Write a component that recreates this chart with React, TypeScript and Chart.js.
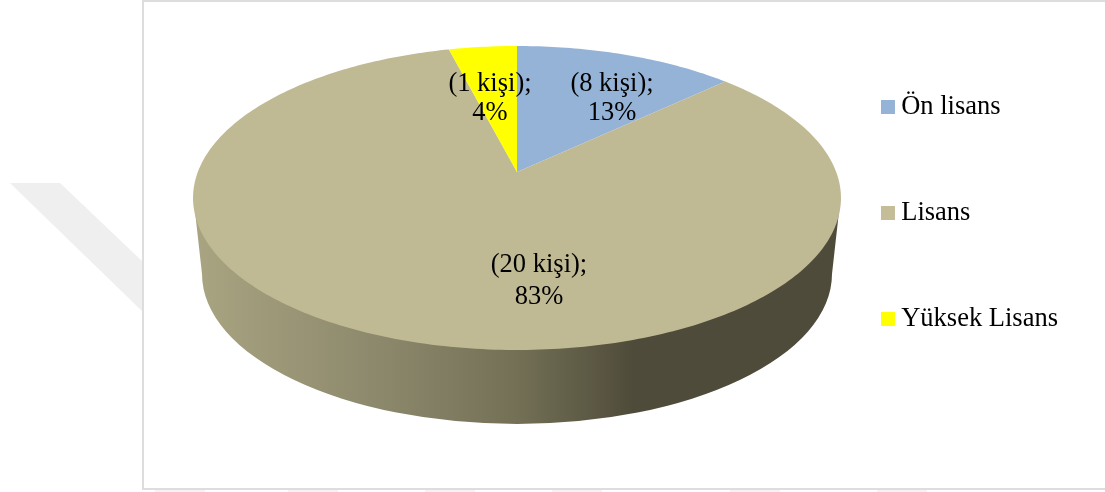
import React, { useEffect, useRef } from "react";
import { Chart, registerables, ArcElement, PieController } from "chart.js";

Chart.register(...registerables);

// Education levels and their shares of the respondents
const categories = ["Ön lisans", "Lisans", "Yüksek Lisans"];
const shares = [13, 83, 4];
const personCounts = [8, 20, 1];
const sliceColors = ["#95b3d7", "#c0ba94", "#ffff00"];
const legendColors = ["#95b3d7", "#c4bd97", "#ffff00"];

const SERIF = '"Liberation Serif", "Times New Roman", serif';
const FONT_SIZE = 26.5;

// Tilted disc: a homography from the unit circle onto the canvas
const DISC = { cx: 517, cy: 172, a: 319.2, b: 147.55, p: -0.171 };
const project = (radius: number, angle: number) => {
  const u = radius * Math.cos(angle);
  const v = radius * Math.sin(angle);
  const w = 1 + DISC.p * v;
  return { x: DISC.cx + (DISC.a * u) / w, y: DISC.cy + (DISC.b * v) / w };
};

// Pie slice painted on the tilted disc, using the angles the controller worked out
class TiltedArc extends ArcElement {
  static id = "tiltedArc";
  draw(ctx: CanvasRenderingContext2D) {
    const { startAngle, endAngle } = this as any;
    const steps = Math.max(8, Math.ceil((endAngle - startAngle) * 60));
    ctx.save();
    ctx.beginPath();
    ctx.moveTo(DISC.cx, DISC.cy);
    for (let i = 0; i <= steps; i++) {
      const pt = project(1, startAngle + ((endAngle - startAngle) * i) / steps);
      ctx.lineTo(pt.x, pt.y);
    }
    ctx.closePath();
    ctx.fillStyle = (this as any).options.backgroundColor;
    ctx.fill();
    ctx.restore();
  }
}

class TiltedPie extends PieController {
  static id = "tiltedPie";
  static defaults = { ...PieController.defaults, dataElementType: "tiltedArc" };
  static overrides = PieController.overrides;
}

Chart.register(TiltedArc, TiltedPie);

// Page furniture behind the chart: faint diagonal band, marks under the frame,
// and the frame itself, whose right side runs off the page
const bottomMarkLefts = [155, 288, 425, 552, 730, 877];
const backdrop = {
  id: "backdrop",
  beforeDraw(chart: Chart) {
    const { ctx, width, height } = chart;
    ctx.save();
    ctx.fillStyle = "#ffffff";
    ctx.fillRect(0, 0, width, height);
    ctx.fillStyle = "#efefef";
    ctx.beginPath();
    ctx.moveTo(10, 183);
    ctx.lineTo(60, 183);
    ctx.lineTo(143, 262);
    ctx.lineTo(143, 312);
    ctx.closePath();
    ctx.fill();
    ctx.fillStyle = "#f3f3f3";
    bottomMarkLefts.forEach((left) => ctx.fillRect(left, 490, 50, 2));
    ctx.fillStyle = "#ffffff";
    ctx.fillRect(143, 1, 970, 488);
    ctx.strokeStyle = "#dddddd";
    ctx.lineWidth = 2;
    ctx.strokeRect(143, 1, 970, 488);
    ctx.restore();
  },
};

// Edge of the disc, shaded from left to right
const discWall = {
  id: "discWall",
  beforeDatasetsDraw(chart: Chart) {
    const { ctx } = chart;
    const grad = ctx.createLinearGradient(193, 0, 841, 0);
    grad.addColorStop(0, "#a9a481");
    grad.addColorStop(0.3, "#8b876b");
    grad.addColorStop(0.5, "#737056");
    grad.addColorStop(0.68, "#4f4b3a");
    grad.addColorStop(1, "#4f4b3a");
    ctx.save();
    ctx.beginPath();
    ctx.moveTo(193.5, 198);
    ctx.lineTo(202, 274);
    ctx.ellipse(517, 274, 315, 150, 0, Math.PI, 0, true);
    ctx.lineTo(840.5, 198);
    ctx.closePath();
    ctx.fillStyle = grad;
    ctx.fill();
    ctx.restore();
  },
};

// Two-line value captions set over the slices
const captionAnchors = [
  { x: 612, y: 99, gap: 29 },
  { x: 539, y: 281, gap: 32 },
  { x: 490, y: 99, gap: 29 },
];
const sliceCaptions = {
  id: "sliceCaptions",
  afterDatasetsDraw(chart: Chart) {
    const { ctx } = chart;
    ctx.save();
    ctx.font = `${FONT_SIZE}px ${SERIF}`;
    ctx.fillStyle = "#000000";
    ctx.textAlign = "center";
    ctx.textBaseline = "middle";
    captionAnchors.forEach((anchor, i) => {
      ctx.fillText(`(${personCounts[i]} kişi);`, anchor.x, anchor.y - anchor.gap / 2);
      ctx.fillText(`${shares[i]}%`, anchor.x, anchor.y + anchor.gap / 2);
    });
    ctx.restore();
  },
};

export default function App() {
  const canvasRef = useRef<HTMLCanvasElement>(null);

  useEffect(() => {
    const chart = new Chart(canvasRef.current!, {
      type: "tiltedPie" as any,
      data: {
        labels: categories,
        datasets: [
          {
            data: shares,
            backgroundColor: sliceColors,
            borderWidth: 0,
          },
        ],
      },
      options: {
        responsive: false,
        animation: false,
        layout: { padding: { right: 37, bottom: 66 } },
        plugins: {
          tooltip: { enabled: false },
          legend: {
            display: true,
            position: "right",
            labels: {
              usePointStyle: true,
              pointStyle: "rect",
              boxWidth: 0.01,
              boxHeight: 14,
              padding: 79.5,
              color: "#000000",
              font: { family: SERIF, size: FONT_SIZE },
              generateLabels: () =>
                categories.map((text, i) => ({
                  text,
                  fillStyle: legendColors[i],
                  strokeStyle: legendColors[i],
                  lineWidth: 0,
                  pointStyle: "rect",
                  index: i,
                })),
            },
          },
        },
      } as any,
      plugins: [backdrop, discWall, sliceCaptions],
    });
    return () => chart.destroy();
  }, []);

  return (
    <canvas
      ref={canvasRef}
      width={1105}
      height={492}
      style={{ position: "fixed", left: 0, top: 0, width: 1105, height: 492, display: "block" }}
    />
  );
}
